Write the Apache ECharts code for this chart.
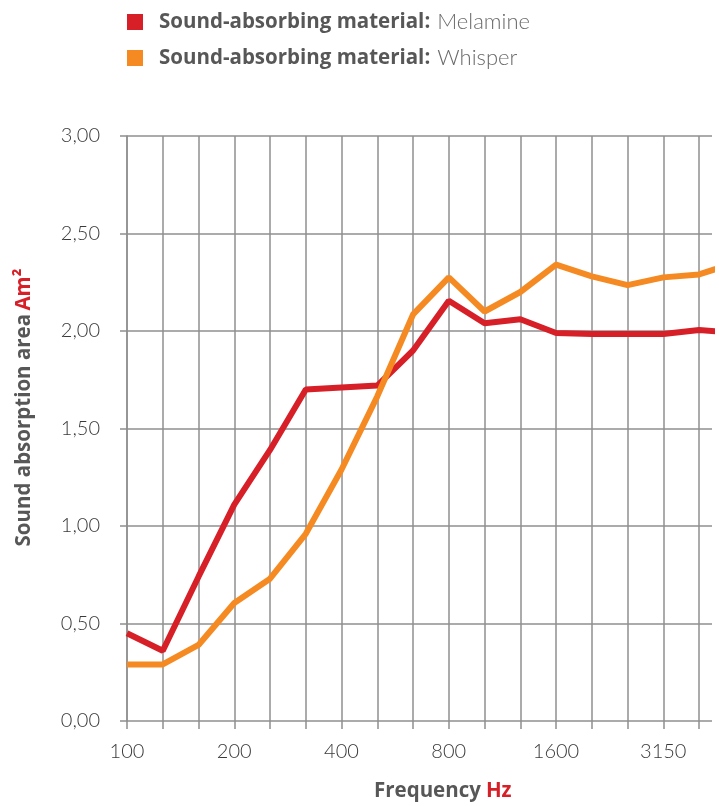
<!DOCTYPE html>
<html>
<head>
<meta charset="utf-8">
<script src="https://cdn.jsdelivr.net/npm/echarts@6/dist/echarts.min.js"></script>
<style>
  html, body { margin: 0; padding: 0; background: #ffffff; }
  #chart { width: 719px; height: 806px; }
</style>
</head>
<body>
<div id="chart"></div>
<script>
// Frequency bands (1/3 octave), Hz — last band lies beyond the visible plot edge
const frequencies = ['100','125','160','200','250','315','400','500','630','800','1000','1250','1600','2000','2500','3150','4000','5000'];
// Visible band labels shown on the axis
const shownFrequencies = ['100','200','400','800','1600','3150'];
// Sound absorption area, Am²
const melamine = [0.45, 0.36, 0.74, 1.11, 1.39, 1.70, 1.71, 1.72, 1.90, 2.155, 2.04, 2.06, 1.99, 1.985, 1.985, 1.985, 2.005, 1.99];
const whisper  = [0.29, 0.29, 0.39, 0.605, 0.73, 0.96, 1.29, 1.665, 2.085, 2.275, 2.10, 2.20, 2.34, 2.28, 2.235, 2.275, 2.29, 2.35];
const seriesNames = ['Melamine', 'Whisper'];
const yTicks = [0, 0.5, 1, 1.5, 2, 2.5, 3];

const gridColor = '#8f8f8f';
const red = '#d71f27';
const orange = '#f58a22';
const visibleBands = frequencies.slice(0, 17);

const toPoints = arr => arr.map((v, i) => [i, v]);

const chart = echarts.init(document.getElementById('chart'), null, { renderer: 'canvas' });
chart.setOption({
  animation: false,
  backgroundColor: '#ffffff',
  title: {
    text: '{a|Frequency} {b|Hz}',
    left: 374,
    top: 781,
    padding: 0,
    textStyle: {
      rich: {
        a: { fontFamily: 'Open Sans', fontWeight: 'bold', fontSize: 20.5, color: '#575757' },
        b: { fontFamily: 'Open Sans', fontWeight: 'bold', fontSize: 20.5, color: red }
      }
    }
  },
  legend: {
    orient: 'vertical',
    left: 127,
    top: 11,
    padding: 0,
    itemWidth: 16,
    itemHeight: 16,
    itemGap: 14,
    icon: 'rect',
    data: seriesNames,
    formatter: name => '{b|Sound-absorbing material:}{n|' + name + '}',
    textStyle: {
      rich: {
        b: { fontFamily: 'Open Sans', fontWeight: 'bold', fontSize: 20.5, lineHeight: 16, color: '#575757', padding: [0, 0, 0, 11] },
        n: { fontFamily: 'Lato', fontWeight: 300, fontSize: 22, lineHeight: 16, color: '#6a6a6a', padding: [0, 0, 0, 7] }
      }
    }
  },
  grid: [
    { left: 127, right: 7, top: 136, bottom: 85 },
    { left: 127, right: 20, top: 136, bottom: 85 }
  ],
  xAxis: [
    { type: 'value', gridIndex: 0, min: 0, max: 16.36, show: false },
    {
      type: 'category', gridIndex: 1, data: visibleBands, boundaryGap: false,
      axisLine: { show: false },
      axisTick: { show: true, interval: 0, length: 8, lineStyle: { color: gridColor, width: 1.5 } },
      splitLine: { show: true, interval: 0, lineStyle: { color: gridColor, width: 1.5 } },
      axisLabel: {
        margin: 21,
        interval: 0,
        formatter: v => shownFrequencies.indexOf(v) >= 0 ? v : '',
        fontFamily: 'Lato', fontWeight: 300, fontSize: 20, color: '#3a3a3a'
      }
    }
  ],
  yAxis: [
    {
      type: 'value', gridIndex: 0, min: yTicks[0], max: yTicks[yTicks.length - 1], interval: yTicks[1] - yTicks[0],
      axisLine: { show: true, lineStyle: { color: gridColor, width: 1.5 } },
      axisTick: { show: true, length: 7, lineStyle: { color: gridColor, width: 1.5 } },
      splitLine: { show: true, lineStyle: { color: gridColor, width: 1.5 } },
      axisLabel: {
        margin: 27,
        formatter: v => v.toFixed(2).replace('.', ','),
        fontFamily: 'Lato', fontWeight: 300, fontSize: 20, color: '#3a3a3a'
      },
      name: '{a|Sound absorption area} {b|Am²}',
      nameLocation: 'middle',
      nameRotate: 90,
      nameGap: 92,
      nameTextStyle: {
        padding: [0, 0, 0, 42],
        rich: {
          a: { fontFamily: 'Open Sans', fontWeight: 'bold', fontSize: 20.5, color: '#575757' },
          b: { fontFamily: 'Open Sans', fontWeight: 'bold', fontSize: 20.5, color: red }
        }
      }
    },
    { type: 'value', gridIndex: 1, min: 0, max: 3, show: false }
  ],
  series: [
    {
      name: seriesNames[0], type: 'line', xAxisIndex: 0, yAxisIndex: 0,
      data: toPoints(melamine), showSymbol: false, symbol: 'none', clip: true,
      lineStyle: { color: red, width: 6 }, itemStyle: { color: red }, z: 3
    },
    {
      name: seriesNames[1], type: 'line', xAxisIndex: 0, yAxisIndex: 0,
      data: toPoints(whisper), showSymbol: false, symbol: 'none', clip: true,
      lineStyle: { color: orange, width: 6 }, itemStyle: { color: orange }, z: 4
    }
  ]
});
</script>
</body>
</html>
